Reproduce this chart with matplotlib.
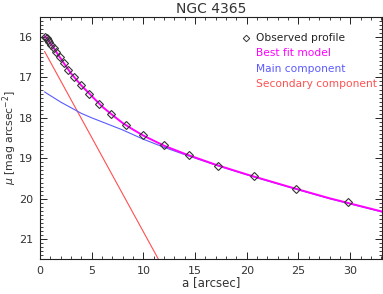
import matplotlib
matplotlib.use("Agg")
import matplotlib.pyplot as plt
from matplotlib.ticker import MultipleLocator

# Observed profile
obs_a = [0.53, 0.64, 0.76, 0.92, 1.10, 1.32, 1.58, 1.90, 2.28, 2.74, 3.28, 3.96,
         4.77, 5.73, 6.89, 8.28, 9.95, 11.95, 14.4, 17.2, 20.7, 24.8, 29.76]
obs_mu = [16.00, 16.03, 16.07, 16.12, 16.19, 16.27, 16.37, 16.50, 16.64, 16.81, 16.99, 17.19,
          17.41, 17.66, 17.91, 18.17, 18.43, 18.68, 18.92, 19.18, 19.45, 19.76, 20.08]

# Best fit model
fit_a = [0.45, 0.6, 0.8, 1.0, 1.3, 1.6, 2.0, 2.5, 3.0, 3.5, 4.0, 5.0, 6.0, 7.0, 8.0,
         9.0, 10.0, 12.0, 14.0, 17.0, 20.0, 24.0, 28.0, 33.1]
fit_mu = [15.98, 16.02, 16.08, 16.15, 16.26, 16.38, 16.53, 16.72, 16.90, 17.05, 17.20, 17.46,
          17.72, 17.93, 18.13, 18.29, 18.44, 18.69, 18.89, 19.16, 19.40, 19.70, 19.99, 20.32]

# Main component
main_a = [0.45, 1.0, 2.0, 3.0, 4.0, 5.0, 6.0, 7.0, 8.0, 10.0, 12.0, 14.0, 17.0, 20.0,
          24.0, 28.0, 33.1]
main_mu = [17.36, 17.45, 17.61, 17.75, 17.89, 18.00, 18.10, 18.20, 18.30, 18.53, 18.73,
           18.91, 19.17, 19.41, 19.71, 20.00, 20.33]

# Secondary component
sec_a = [0.45, 11.5]
sec_mu = [16.36, 21.52]

title = "NGC 4365"
xlabel = "a [arcsec]"
ylabel = r"$\mu$ [mag arcsec$^{-2}$]"
legend_labels = ["Observed profile", "Best fit model", "Main component", "Secondary component"]

MAGENTA = "#ff00ff"
BLUE = "#5a5aff"
RED = "#ff5050"
TXT = "#333333"

plt.rcParams['font.family'] = ['DejaVu Sans']
fig = plt.figure(figsize=(3.83, 2.94), dpi=100)
ax = fig.add_axes([0.1044, 0.118, 0.8936, 0.825])

ax.plot(sec_a, sec_mu, color=RED, lw=0.8)
ax.plot(main_a, main_mu, color=BLUE, lw=0.8)
ax.plot(fit_a, fit_mu, color=MAGENTA, lw=1.4)
ax.plot(obs_a, obs_mu, linestyle='none', marker='D', ms=4, mfc='none',
        mec='#333333', mew=0.8)

ax.set_xlim(0, 33.1)
ax.set_ylim(21.5, 15.5)
ax.xaxis.set_major_locator(MultipleLocator(5))
ax.xaxis.set_minor_locator(MultipleLocator(1))
ax.yaxis.set_major_locator(MultipleLocator(1))
ax.yaxis.set_minor_locator(MultipleLocator(0.1))
ax.tick_params(which='both', direction='in', top=True, right=True, color='#222222',
               labelcolor=TXT, labelsize=8)
ax.tick_params(which='major', length=5, width=0.7, pad=5)
ax.tick_params(which='minor', length=2.5, width=0.6)
for s in ax.spines.values():
    s.set_linewidth(0.8)
    s.set_color('#222222')

ax.set_title(title, fontsize=10, color=TXT, pad=3)
ax.set_xlabel(xlabel, fontsize=8.5, color=TXT, labelpad=0)
ax.set_ylabel(ylabel, fontsize=7.8, color=TXT)
ax.yaxis.set_label_coords(-0.061, 0.5)

# Legend as coloured text
colors = ['#222222', MAGENTA, BLUE, RED]
x0 = 0.631
y0 = 0.912
dy = 0.063
for i, (lab, c) in enumerate(zip(legend_labels, colors)):
    ax.text(x0, y0 - i * dy, lab, transform=ax.transAxes, color=c, fontsize=7.7,
            va='center', ha='left')
ax.plot([0.602], [y0], transform=ax.transAxes, marker='D', ms=3.3, mfc='none',
        mec='#333333', mew=0.7, linestyle='none')

fig.savefig("out.png", dpi=100)
